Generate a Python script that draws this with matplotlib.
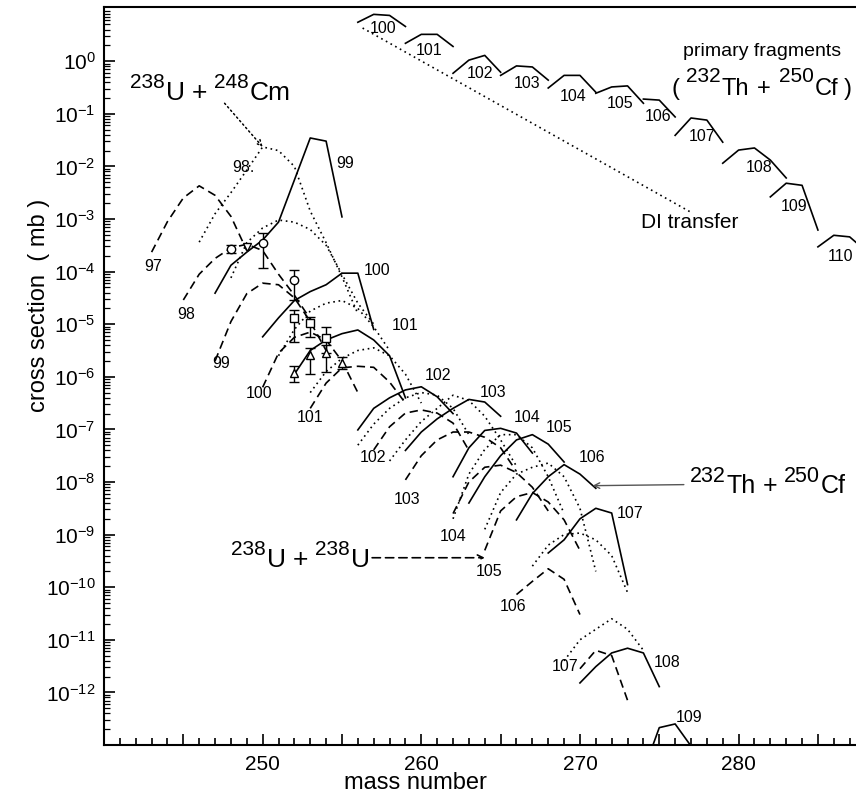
import numpy as np
import matplotlib
matplotlib.use("Agg")
import matplotlib.pyplot as plt
from matplotlib.ticker import MultipleLocator, FixedLocator, FuncFormatter, LogLocator, NullFormatter
from matplotlib.transforms import offset_copy

plt.rcParams['font.family'] = ['Liberation Sans', 'DejaVu Sans']
plt.rcParams['mathtext.fontset'] = 'custom'
plt.rcParams['mathtext.rm'] = 'Liberation Sans'
plt.rcParams['mathtext.it'] = 'Liberation Sans:italic'
plt.rcParams['mathtext.bf'] = 'Liberation Sans:bold'

# ---------------- data (mass number, log10 cross section in mb) ----------------
# primary fragments 232Th + 250Cf
prim_Z = [100, 101, 102, 103, 104, 105, 106, 107, 108, 109, 110]
prim_A = [[256, 257, 258, 259], [259, 260, 261, 262], [262, 263, 264, 265],
          [265, 266, 267, 268], [268, 269, 270, 271], [271, 272, 273, 274],
          [274, 275, 276], [276, 277, 278, 279], [279, 280, 281, 282, 283],
          [282, 283, 284, 285], [285, 286, 287, 288]]
prim_logxs = [[0.74, 0.89, 0.87, 0.66], [0.34, 0.51, 0.51, 0.28], [-0.23, 0.02, 0.11, -0.21],
              [-0.27, -0.09, -0.11, -0.36], [-0.51, -0.27, -0.27, -0.59], [-0.61, -0.49, -0.47, -0.80],
              [-0.72, -0.74, -1.06], [-1.41, -1.08, -1.12, -1.54], [-1.94, -1.69, -1.65, -1.88, -2.22],
              [-2.58, -2.32, -2.36, -3.21], [-3.53, -3.31, -3.34, -3.60]]

# DI transfer line
di_A = [256.3, 277.1]
di_logxs = [0.63, -2.89]

# secondary (surviving) 232Th + 250Cf  -- solid
thcf_Z = [99, 100, 101, 102, 103, 104, 105, 106, 107, 108, 109]
thcf_A = [[247, 248, 249, 250, 251, 252, 253, 254, 255],
          [250, 251, 252, 253, 254, 255, 256, 257],
          [252, 253, 254, 255, 256, 257, 258, 259],
          [256, 257, 258, 259, 260, 261, 262],
          [259, 260, 261, 262, 263, 264, 265],
          [262, 263, 264, 265, 266, 267],
          [263, 264, 265, 266, 267, 268, 269],
          [266, 267, 268, 269, 270, 271],
          [268, 269, 270, 271, 272, 273],
          [270, 271, 272, 273, 274, 275],
          [274, 275, 276, 277]]
thcf_logxs = [[-4.41, -3.88, -3.63, -3.40, -3.06, -2.26, -1.46, -1.52, -2.96],
              [-5.24, -4.88, -4.55, -4.38, -4.25, -4.03, -4.03, -5.10],
              [-5.95, -5.50, -5.30, -5.18, -5.11, -5.30, -5.60, -6.40],
              [-7.01, -6.60, -6.40, -6.25, -6.19, -6.38, -6.70],
              [-7.40, -7.05, -6.80, -6.60, -6.43, -6.48, -6.75],
              [-7.90, -7.35, -7.02, -6.98, -7.07, -7.45],
              [-8.40, -7.90, -7.50, -7.20, -7.10, -7.28, -7.62],
              [-8.72, -8.22, -7.90, -7.67, -7.85, -8.12],
              [-9.35, -9.10, -8.70, -8.50, -8.59, -9.95],
              [-11.82, -11.51, -11.25, -11.16, -11.25, -11.89],
              [-13.50, -12.67, -12.60, -13.02]]

# 238U + 248Cm -- dotted
ucm_Z = [98, 99, 100, 101, 102, 103, 104, 105, 106, 107]
ucm_A = [[246, 247, 248, 249, 250, 251, 252, 253, 254, 255, 256],
         [248, 249, 250, 251, 252, 253, 254, 255, 256, 257],
         [251, 252, 253, 254, 255, 256, 257, 258],
         [253, 254, 255, 256, 257, 258, 259, 260],
         [256, 257, 258, 259, 260, 261, 262, 263],
         [258, 259, 260, 261, 262, 263, 264, 265, 266],
         [262, 263, 264, 265, 266, 267, 268, 269],
         [264, 265, 266, 267, 268, 269, 270, 271],
         [267, 268, 269, 270, 271, 272, 273],
         [269, 270, 271, 272, 273, 274]]
ucm_logxs = [[-3.44, -2.90, -2.50, -2.07, -1.63, -1.70, -2.00, -2.85, -3.45, -4.10, -4.80],
             [-4.12, -3.45, -3.17, -3.02, -3.06, -3.20, -3.50, -4.05, -4.60, -5.00],
             [-5.60, -5.10, -4.75, -4.60, -4.55, -4.70, -5.05, -5.50],
             [-6.30, -5.90, -5.65, -5.50, -5.45, -5.60, -5.95, -6.50],
             [-7.30, -6.90, -6.60, -6.40, -6.30, -6.35, -6.60, -7.10],
             [-7.60, -7.20, -6.85, -6.60, -6.35, -6.45, -6.75, -7.20, -7.70],
             [-8.70, -7.85, -7.38, -7.10, -7.10, -7.35, -7.90, -8.60],
             [-8.90, -8.20, -7.85, -7.72, -7.64, -7.90, -8.50, -9.70],
             [-9.60, -9.20, -9.00, -8.97, -9.10, -9.40, -10.10],
             [-11.40, -11.00, -10.80, -10.60, -10.80, -11.20]]

# 238U + 238U -- dashed
uu_Z = [97, 98, 99, 100, 101, 102, 103, 104, 105, 106, 107]
uu_A = [[243, 244, 245, 246, 247, 248, 249],
        [245, 246, 247, 248, 249, 250, 251, 252, 253],
        [247, 248, 249, 250, 251, 252, 253, 254],
        [250, 251, 252, 253, 254, 255, 256],
        [253, 254, 255, 256, 257, 258, 259],
        [257, 258, 259, 260, 261, 262, 263],
        [259, 260, 261, 262, 263, 264, 265, 266],
        [262, 263, 264, 265, 266, 267, 268],
        [264, 265, 266, 267, 268, 269, 270],
        [266, 267, 268, 269, 270],
        [270, 271, 272, 273]]
uu_logxs = [[-3.63, -3.05, -2.60, -2.37, -2.55, -2.95, -3.60],
            [-4.54, -4.05, -3.75, -3.55, -3.48, -3.60, -4.05, -4.45, -4.90],
            [-5.70, -4.95, -4.42, -4.22, -4.25, -4.50, -4.95, -5.50],
            [-6.20, -5.55, -5.25, -5.15, -5.30, -5.70, -6.30],
            [-6.60, -6.12, -5.83, -5.80, -5.82, -6.10, -6.50],
            [-7.39, -6.95, -6.69, -6.63, -6.69, -6.88, -7.40],
            [-7.96, -7.50, -7.20, -7.05, -7.05, -7.15, -7.35, -7.80],
            [-8.60, -8.00, -7.72, -7.68, -7.82, -8.10, -8.55],
            [-9.30, -8.55, -8.28, -8.20, -8.38, -8.72, -9.30],
            [-10.14, -9.89, -9.65, -9.85, -10.52],
            [-11.55, -11.20, -11.30, -12.15]]

# experimental points
circ_A = [248, 250, 252]
circ_logxs = [-3.57, -3.46, -4.16]
circ_lo = [-3.65, -3.93, -4.54]
circ_hi = [-3.50, -3.27, -3.97]
dtri_A = [249]
dtri_logxs = [-3.53]
sq_A = [252, 253, 254]
sq_logxs = [-4.88, -4.98, -5.26]
sq_lo = [-5.34, -5.24, -5.55]
sq_hi = [-4.73, -4.86, -5.05]
tri_A = [252, 253, 254, 255]
tri_logxs = [-5.93, -5.59, -5.55, -5.74]
tri_lo = [-6.10, -5.95, -5.90, -5.85]
tri_hi = [-5.80, -5.45, -5.40, -5.62]

# ---------------- figure ----------------
W, H = 856, 798
fig = plt.figure(figsize=(W / 100, H / 100), dpi=100)
ax = fig.add_axes([104 / W, 53 / H, 752 / W, 738 / H])
ax.set_yscale('log')
ax.set_xlim(240, 287.4)
ax.set_ylim(1e-13, 10 ** 1.03)

lw = 1.2
SOLID = dict(color='black', lw=lw, ls='-')
DOT = dict(color='black', lw=lw, ls=(0, (1, 2.2)))
DASH = dict(color='black', lw=lw, ls=(0, (5, 3)))

def p(v):
    return 10 ** np.asarray(v, dtype=float)

for a, l in zip(prim_A, prim_logxs):
    ax.plot(a, p(l), **SOLID)
ax.plot(di_A, p(di_logxs), **DOT)
for a, l in zip(thcf_A, thcf_logxs):
    ax.plot(a, p(l), **SOLID)
for a, l in zip(ucm_A, ucm_logxs):
    ax.plot(a, p(l), **DOT)
for a, l in zip(uu_A, uu_logxs):
    ax.plot(a, p(l), **DASH)

def errpts(A, L, lo, hi, marker):
    y = p(L)
    yerr = np.vstack([y - p(lo), p(hi) - y])
    ax.errorbar(A, y, yerr=yerr, fmt=marker, mfc='white', mec='black', ecolor='black',
                ms=6, mew=1.0, elinewidth=1.0, capsize=3.5, capthick=1.0, zorder=5)

errpts(circ_A, circ_logxs, circ_lo, circ_hi, 'o')
errpts(sq_A, sq_logxs, sq_lo, sq_hi, 's')
errpts(tri_A, tri_logxs, tri_lo, tri_hi, '^')
ax.plot(dtri_A, p(dtri_logxs), 'v', mfc='white', mec='black', ms=6, mew=1.0, zorder=5)

# ---------------- curve labels ----------------
lab_fs = 11.5
prim_lab_pos = [(257.6, 0.63), (260.5, 0.21), (263.7, -0.23), (266.65, -0.42), (269.55, -0.68),
                (272.5, -0.80), (274.9, -1.06), (277.7, -1.44), (281.3, -2.03), (283.5, -2.77),
                (286.4, -3.72)]
for z, (x, ly) in zip(prim_Z, prim_lab_pos):
    ax.text(x, 10 ** ly, str(z), fontsize=lab_fs, ha='center', va='center')

upper_Z = [99, 100, 101, 102, 103, 104, 105, 106, 107, 108, 109]
upper_pos = [(255.2, -1.94), (257.2, -3.97), (259.0, -5.02), (261.05, -5.97), (264.5, -6.29),
             (266.65, -6.78), (268.7, -6.97), (270.75, -7.54), (273.15, -8.59), (275.5, -11.44),
             (276.9, -12.48)]
for z, (x, ly) in zip(upper_Z, upper_pos):
    ax.text(x, 10 ** ly, str(z), fontsize=lab_fs, ha='center', va='center')
ax.text(248.76, 10 ** -2.03, '98.', fontsize=lab_fs, ha='center', va='center')

lower_Z = [97, 98, 99, 100, 101, 102, 103, 104, 105, 106, 107]
lower_pos = [(243.1, -3.91), (245.2, -4.81), (247.4, -5.74), (249.8, -6.31), (253.0, -6.78),
             (256.95, -7.54), (259.1, -8.34), (262.0, -9.04), (264.3, -9.71), (265.8, -10.37),
             (269.05, -11.51)]
for z, (x, ly) in zip(lower_Z, lower_pos):
    ax.text(x, 10 ** ly, str(z), fontsize=lab_fs, ha='center', va='center')

# ---------------- composite texts with superscripts ----------------
renderer = fig.canvas.get_renderer()

def rich_text(x, y, parts, ha='left'):
    """parts: list of (string, fontsize, rise_px, gap_before_px)"""
    items = []
    total = 0.0
    for s, fs, rise, gap in parts:
        t = ax.text(x, y, s, fontsize=fs, ha='left', va='baseline', clip_on=False)
        w = t.get_window_extent(renderer).width
        items.append((t, w, rise, gap))
        total += gap + w
    cursor = {'left': 0.0, 'center': -total / 2, 'right': -total}[ha]
    for t, w, rise, gap in items:
        cursor += gap
        t.set_transform(offset_copy(ax.transData, fig=fig, x=cursor, y=rise, units='dots'))
        cursor += w

rich_text(241.64, 10 ** -0.741,
          [('238', 15, 12, 0), ('U', 19, 0, 1), ('+', 19, 0, 7), ('248', 15, 12, 7), ('Cm', 19, 0, 1)])
ax.annotate('', xy=(250.0, 10 ** -1.63), xytext=(247.6, 10 ** -0.80),
            arrowprops=dict(arrowstyle='->', color='black', lw=1.1, ls=(0, (1, 2)),
                            shrinkA=0, shrinkB=0))

ax.text(281.5, 10 ** 0.19, 'primary fragments', fontsize=14, ha='center', va='center')
rich_text(275.8, 10 ** -0.646,
          [('(', 17, 0, 0), ('232', 15, 13, 6), ('Th', 17, 0, 1), ('+', 17, 0, 8),
           ('250', 15, 13, 8), ('Cf', 17, 0, 1), (')', 17, 0, 5)])
ax.text(276.9, 10 ** -3.06, 'DI transfer', fontsize=15, ha='center', va='center')

rich_text(276.93, 10 ** -8.21,
          [('232', 15.5, 11, 0), ('Th', 18, 0, 1), ('+', 18, 0, 7), ('250', 15.5, 11, 6), ('Cf', 18, 0, 1)])
ax.annotate('', xy=(270.8, 10 ** -8.07), xytext=(276.55, 10 ** -8.05),
            arrowprops=dict(arrowstyle='->', color='#555555', lw=1.0, shrinkA=0, shrinkB=0))

rich_text(256.76, 10 ** -9.61,
          [('238', 15, 12, 0), ('U', 19, 0, 1), ('+', 19, 0, 7), ('238', 15, 12, 7), ('U', 19, 0, 1)],
          ha='right')
ax.annotate('', xy=(264.0, 10 ** -9.44), xytext=(256.9, 10 ** -9.44),
            arrowprops=dict(arrowstyle='->', color='black', lw=1.2, ls=(0, (5, 3)),
                            shrinkA=0, shrinkB=0))

# ---------------- axes styling ----------------
ax.spines['right'].set_visible(False)
for s in ['left', 'bottom', 'top']:
    ax.spines[s].set_linewidth(1.5)

ax.xaxis.set_major_locator(MultipleLocator(5))
ax.xaxis.set_minor_locator(MultipleLocator(1))
ax.xaxis.set_major_formatter(FuncFormatter(
    lambda v, pos: '%d' % v if (abs(v % 10) < 1e-6 and v > 240.5) else ''))
ax.yaxis.set_major_locator(FixedLocator([10.0 ** k for k in range(-12, 1)]))
ax.yaxis.set_minor_locator(LogLocator(base=10, subs=np.arange(2, 10), numticks=30))
ax.yaxis.set_minor_formatter(NullFormatter())
ax.yaxis.set_major_formatter(FuncFormatter(lambda v, pos: r'$10^{%d}$' % int(round(np.log10(v)))))

ax.tick_params(axis='both', which='both', direction='in', top=False, right=False)
ax.tick_params(axis='x', which='major', length=8, width=1.2, labelsize=15, pad=7)
ax.tick_params(axis='x', which='minor', length=5, width=1.2)
ax.tick_params(axis='y', which='major', length=8, width=1.2, labelsize=15, pad=6)
ax.tick_params(axis='y', which='minor', length=4, width=0.9)

ax.set_xlabel('mass number', fontsize=17)
ax.set_ylabel('cross section  ( mb )', fontsize=17)
ax.xaxis.set_label_coords(0.414, -0.037)
ax.yaxis.set_label_coords(-0.072, 0.596)

fig.savefig('out.png', dpi=100)
